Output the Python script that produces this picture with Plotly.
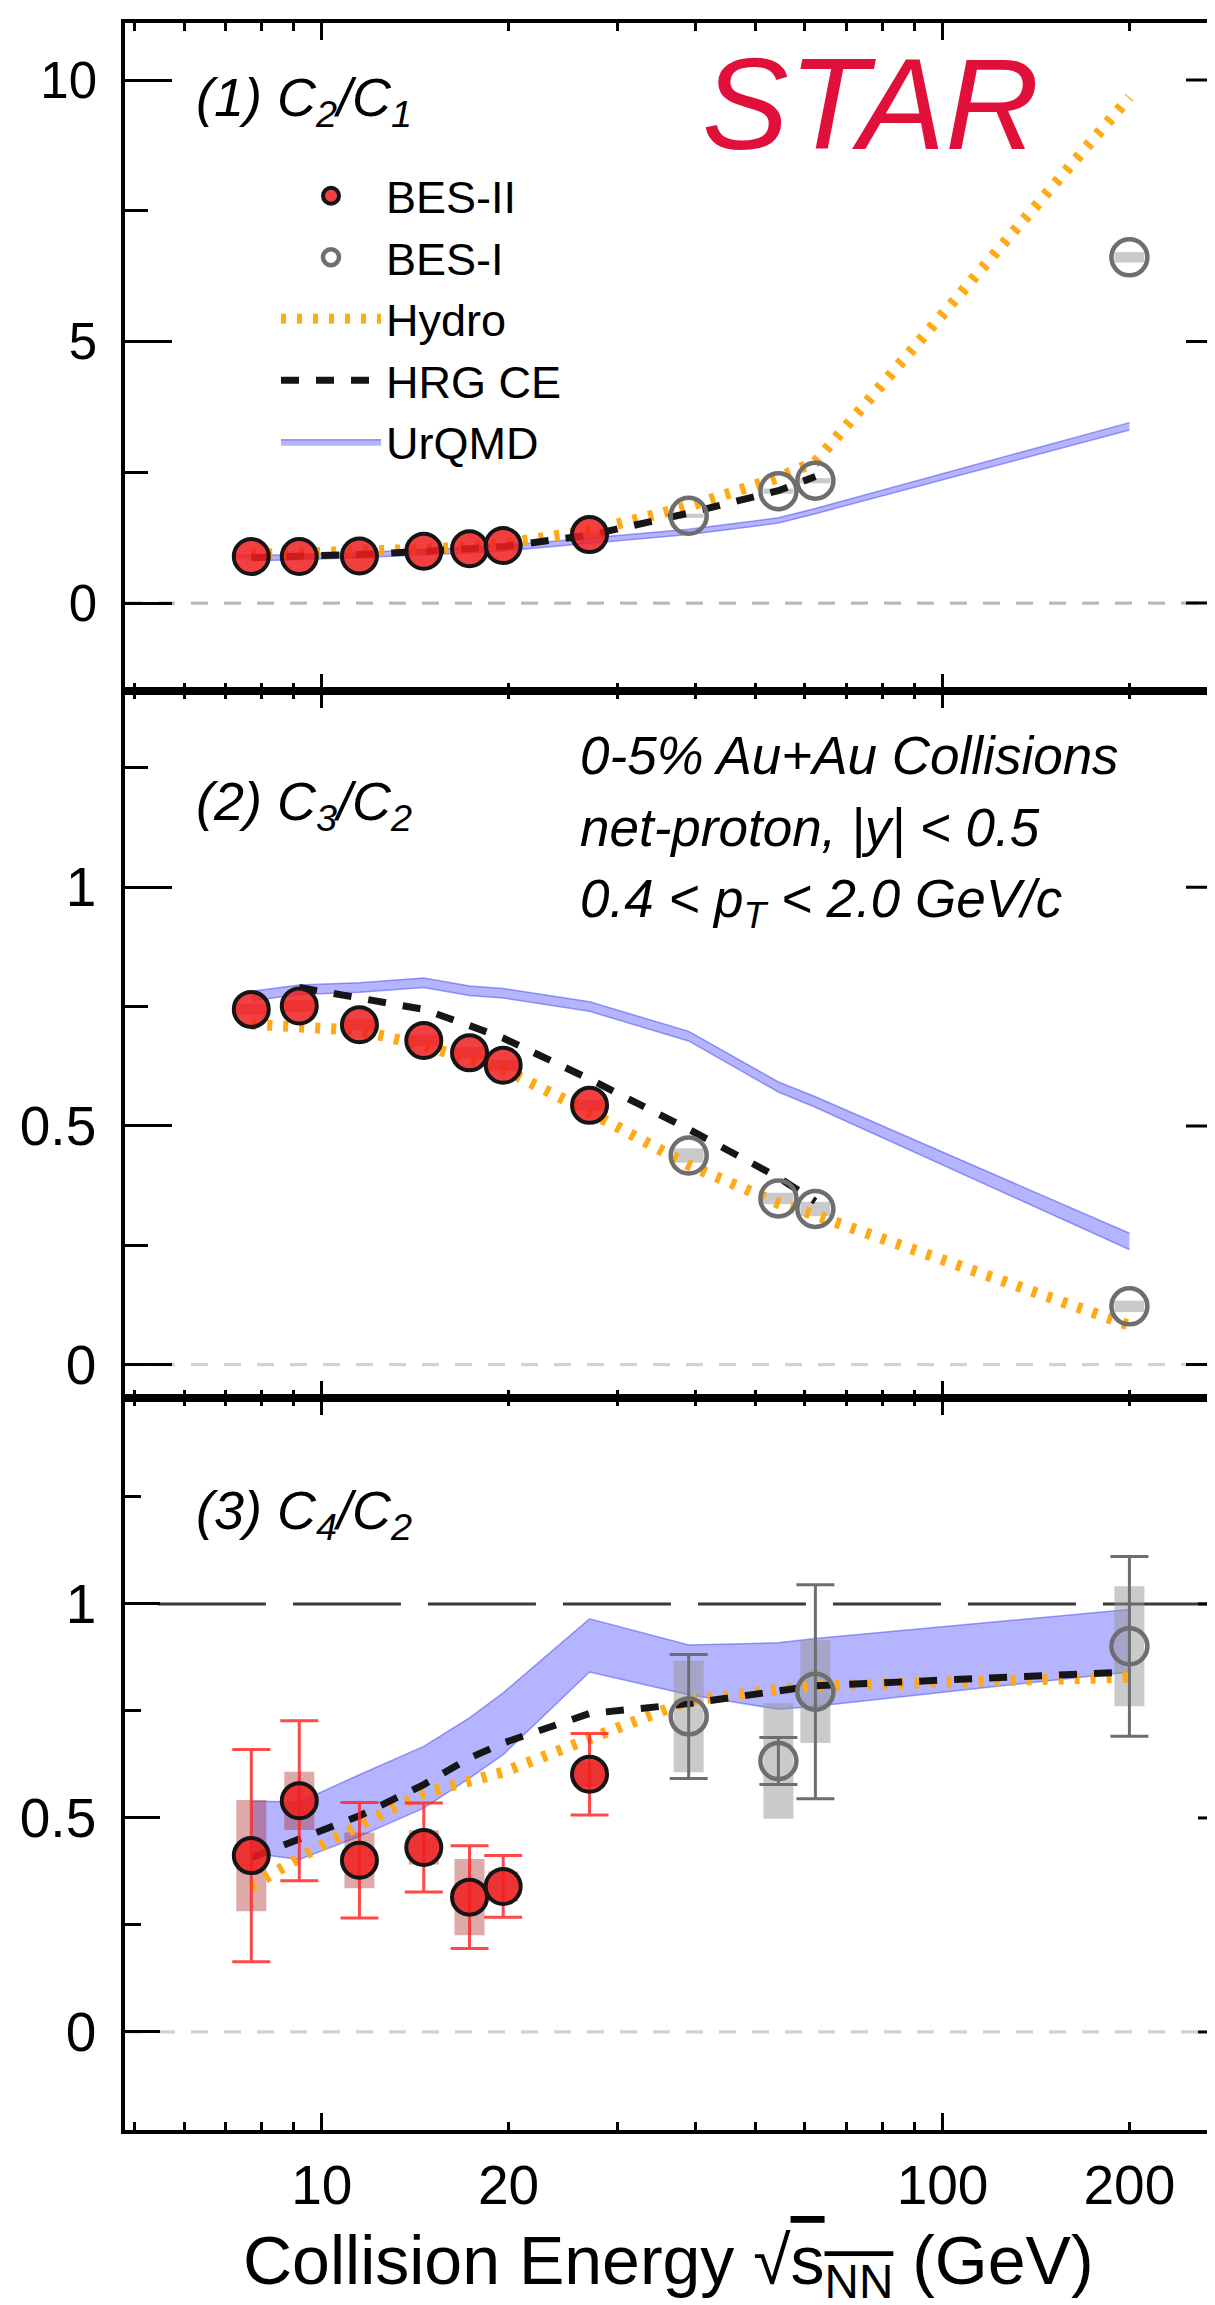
import math
import plotly.graph_objects as go

# ---------------- data ----------------
E_BES2 = [7.7, 9.2, 11.5, 14.6, 17.3, 19.6, 27]
E_BES1 = [39, 54.4, 62.4, 200]
E_MODEL = [7.7, 9.2, 11.5, 14.6, 17.3, 19.6, 27, 39, 54.4, 62.4, 200]
E_HRG1 = [7.7, 9.2, 11.5, 14.6, 17.3, 19.6, 27, 39, 54.4, 62.4]
E_HRG2 = [9.2, 11.5, 14.6, 17.3, 19.6, 27, 39, 54.4, 62.4]

# (1) C2/C1
C21_BES2 = [0.89, 0.89, 0.90, 0.99, 1.04, 1.10, 1.31]
C21_BES2_SYS = [0.05, 0.05, 0.05, 0.05, 0.05, 0.05, 0.05]
C21_BES1 = [1.67, 2.14, 2.34, 6.61]
C21_BES1_SYS = [0.04, 0.05, 0.05, 0.10]
C21_HYDRO = [0.93, 0.95, 0.97, 1.03, 1.08, 1.14, 1.38, 1.85, 2.40, 2.70, 9.67]
C21_HRG = [0.87, 0.89, 0.93, 0.99, 1.03, 1.08, 1.30, 1.72, 2.15, 2.42]
C21_URQMD_LO = [0.81, 0.83, 0.87, 0.92, 0.96, 1.00, 1.14, 1.31, 1.53, 1.71, 3.31]
C21_URQMD_HI = [0.91, 0.93, 0.97, 1.02, 1.06, 1.10, 1.24, 1.41, 1.63, 1.81, 3.45]

# (2) C3/C2
C32_BES2 = [0.744, 0.751, 0.712, 0.679, 0.653, 0.627, 0.543]
C32_BES2_SYS = [0.012, 0.012, 0.012, 0.012, 0.012, 0.012, 0.012]
C32_BES1 = [0.438, 0.348, 0.326, 0.122]
C32_BES1_SYS = [0.015, 0.012, 0.015, 0.012]
C32_HYDRO = [0.713, 0.706, 0.700, 0.668, 0.642, 0.619, 0.529, 0.418, 0.338, 0.313, 0.082]
C32_HRG = [0.790, 0.767, 0.744, 0.710, 0.684, 0.598, 0.493, 0.392, 0.342]
C32_URQMD_LO = [0.762, 0.775, 0.780, 0.790, 0.773, 0.768, 0.740, 0.678, 0.571, 0.539, 0.241]
C32_URQMD_HI = [0.782, 0.795, 0.800, 0.810, 0.793, 0.788, 0.760, 0.698, 0.592, 0.561, 0.275]

# (3) C4/C2
C42_BES2 = [0.412, 0.540, 0.401, 0.431, 0.315, 0.340, 0.602]
C42_BES2_STAT = [0.248, 0.187, 0.135, 0.104, 0.120, 0.072, 0.095]
C42_BES2_SYS = [0.130, 0.068, 0.065, 0.040, 0.089, 0.035, 0.030]
C42_BES1 = [0.737, 0.633, 0.795, 0.901]
C42_BES1_STAT = [0.145, 0.055, 0.250, 0.210]
C42_BES1_SYS = [0.130, 0.135, 0.120, 0.140]
C42_HYDRO = [0.340, 0.407, 0.483, 0.558, 0.586, 0.607, 0.685, 0.774, 0.800, 0.809, 0.829]
C42_HRG = [0.407, 0.449, 0.505, 0.578, 0.640, 0.675, 0.744, 0.767, 0.795, 0.809, 0.841]
C42_URQMD_LO = [0.418, 0.403, 0.457, 0.523, 0.593, 0.648, 0.841, 0.788, 0.754, 0.761, 0.841]
C42_URQMD_HI = [0.539, 0.537, 0.601, 0.667, 0.734, 0.792, 0.965, 0.904, 0.909, 0.919, 0.987]

X_TICKS = [10, 20, 100, 200]
X_TICK_TEXT = ["10", "20", "100", "200"]
X_MINOR = [5, 6, 7, 8, 9, 20, 30, 40, 50, 60, 70, 80, 90, 200]

Y1_TICKS, Y1_TEXT, Y1_MINOR = [0, 5, 10], ["0", "5", "10"], [2.5, 7.5]
Y23_TICKS, Y23_TEXT, Y23_MINOR = [0, 0.5, 1], ["0", "0.5", "1"], [0.25, 0.75, 1.25]

# ---------------- geometry ----------------
W, H = 1215, 2305
L, R, T, B = 117, 0, 15, 183
PW, PH = W - L - R, H - T - B
P1 = (15, 683)
P2 = (683, 1390)
P3 = (1390, 2122)


def xp(px):
    return (px - L) / PW


def yp(py):
    return (H - B - py) / PH


def dom(p):
    return [yp(p[1]), yp(p[0])]


XR = [math.log10(4.82), math.log10(283)]
Y1R = [-1.68, 11.09]
Y2R = [-0.070, 1.411]
Y3R = [-0.229, 1.481]

FONT = "Liberation Sans, Arial, Helvetica, sans-serif"
RED_FILL = "rgba(240,30,30,0.85)"
RED_ERR = "rgba(255,40,40,0.85)"
RED_SYS = "rgba(170,40,40,0.40)"
GRAY = "#6e6e6e"
GRAY_SYS = "rgba(150,150,150,0.5)"
ORANGE = "#ffa915"
BLACK = "#161616"
BAND_FILL = "rgba(105,105,255,0.5)"
BAND_LINE = "rgba(80,80,240,0.55)"
INVIS = dict(size=1, color="rgba(0,0,0,0)")

fig = go.Figure()


def add_panel(k, bes2, bes2_sys, bes1, bes1_sys, hydro, e_hrg, hrg, u_lo, u_hi,
              bes2_stat=None, bes1_stat=None, legend=False):
    xa = "x" if k == 1 else f"x{k}"
    ya = "y" if k == 1 else f"y{k}"
    # UrQMD band
    fig.add_trace(go.Scatter(x=E_MODEL, y=u_lo, mode="lines", xaxis=xa, yaxis=ya,
                             line=dict(color=BAND_LINE, width=1.5), showlegend=False,
                             hoverinfo="skip"))
    fig.add_trace(go.Scatter(x=E_MODEL, y=u_hi, mode="lines", xaxis=xa, yaxis=ya,
                             fill="tonexty", fillcolor=BAND_FILL, name="UrQMD",
                             line=dict(color=BAND_LINE, width=1.5), showlegend=legend,
                             legendrank=5))
    # systematic boxes
    fig.add_trace(go.Scatter(x=E_BES2, y=bes2, mode="markers", xaxis=xa, yaxis=ya,
                             marker=INVIS, showlegend=False,
                             error_y=dict(type="data", array=bes2_sys, thickness=30, width=0,
                                          color=RED_SYS), hoverinfo="skip"))
    fig.add_trace(go.Scatter(x=E_BES1, y=bes1, mode="markers", xaxis=xa, yaxis=ya,
                             marker=INVIS, showlegend=False,
                             error_y=dict(type="data", array=bes1_sys, thickness=30, width=0,
                                          color=GRAY_SYS), hoverinfo="skip"))
    # models
    fig.add_trace(go.Scatter(x=E_MODEL, y=hydro, mode="lines", xaxis=xa, yaxis=ya,
                             name="Hydro", line=dict(color=ORANGE, width=11, dash="5px,11px"),
                             showlegend=legend, legendrank=3))
    fig.add_trace(go.Scatter(x=e_hrg, y=hrg, mode="lines", xaxis=xa, yaxis=ya,
                             name="HRG CE", line=dict(color=BLACK, width=7, dash="18px,17px"),
                             showlegend=legend, legendrank=4))
    # data
    ey2 = None
    if bes2_stat is not None:
        ey2 = dict(type="data", array=bes2_stat, thickness=3, width=19, color=RED_ERR)
    fig.add_trace(go.Scatter(x=E_BES2, y=bes2, mode="markers", xaxis=xa, yaxis=ya,
                             name="BES-II", error_y=ey2,
                             marker=dict(size=35, color=RED_FILL, symbol="circle",
                                         line=dict(color="#151515", width=4)),
                             showlegend=legend, legendrank=1))
    ey1 = None
    if bes1_stat is not None:
        ey1 = dict(type="data", array=bes1_stat, thickness=3, width=19, color=GRAY)
    fig.add_trace(go.Scatter(x=E_BES1, y=bes1, mode="markers", xaxis=xa, yaxis=ya,
                             name="BES-I", error_y=ey1,
                             marker=dict(size=36, color="rgba(255,255,255,0)", symbol="circle",
                                         line=dict(color=GRAY, width=4.5)),
                             showlegend=legend, legendrank=2))


add_panel(1, C21_BES2, C21_BES2_SYS, C21_BES1, C21_BES1_SYS, C21_HYDRO, E_HRG1, C21_HRG,
          C21_URQMD_LO, C21_URQMD_HI, legend=True)
add_panel(2, C32_BES2, C32_BES2_SYS, C32_BES1, C32_BES1_SYS, C32_HYDRO, E_HRG2, C32_HRG,
          C32_URQMD_LO, C32_URQMD_HI)
add_panel(3, C42_BES2, C42_BES2_SYS, C42_BES1, C42_BES1_SYS, C42_HYDRO, E_MODEL, C42_HRG,
          C42_URQMD_LO, C42_URQMD_HI, bes2_stat=C42_BES2_STAT, bes1_stat=C42_BES1_STAT)

# invisible carrier so that the bottom label axis is drawn
fig.add_trace(go.Scatter(x=E_BES1, y=C42_BES1, xaxis="x4", yaxis="y3", mode="markers",
                         marker=INVIS, showlegend=False, hoverinfo="skip"))


# ---------------- axes ----------------
def xaxis_cfg(anchor):
    return dict(type="log", range=XR, domain=[0, 1], anchor=anchor,
                showline=True, linecolor="black", linewidth=3.5, mirror="ticks",
                ticks="inside", tickvals=[10, 100], ticklen=17, tickwidth=3, tickcolor="black",
                showticklabels=False, showgrid=False, zeroline=False,
                minor=dict(tickvals=X_MINOR, ticks="inside", ticklen=8, tickwidth=3,
                           tickcolor="black", showgrid=False))


def yaxis_cfg(anchor, d, rng, tv, tt, mv, tl, mtl, fs):
    return dict(domain=d, range=rng, anchor=anchor, showline=True, linecolor="black",
                linewidth=3.5, mirror=False, ticks="inside", tickvals=tv, ticktext=tt,
                ticklen=tl, tickwidth=3, tickcolor="black", showgrid=False, zeroline=False,
                tickfont=dict(family=FONT, size=fs, color="black"), ticklabelstandoff=14,
                minor=dict(tickvals=mv, ticks="inside", ticklen=mtl, tickwidth=3,
                           tickcolor="black", showgrid=False))


layout = dict(
    width=W, height=H, margin=dict(l=L, r=R, t=T, b=B, pad=0),
    paper_bgcolor="white", plot_bgcolor="white",
    font=dict(family=FONT, color="black"),
    showlegend=True,
    legend=dict(x=xp(268), y=yp(152), xanchor="left", yanchor="top",
                font=dict(family=FONT, size=45, color="black"),
                bgcolor="rgba(0,0,0,0)", itemwidth=100, traceorder="normal",
                tracegroupgap=0),
    xaxis=xaxis_cfg("y"),
    xaxis2=xaxis_cfg("y2"),
    xaxis3=xaxis_cfg("y3"),
    xaxis4=dict(type="log", range=XR, overlaying="x3", anchor="y3", side="bottom",
                showline=False, ticks="", tickvals=X_TICKS, ticktext=X_TICK_TEXT,
                showgrid=False, zeroline=False, ticklabelstandoff=18,
                tickfont=dict(family=FONT, size=55, color="black")),
    yaxis=yaxis_cfg("x", dom(P1), Y1R, Y1_TICKS, Y1_TEXT, Y1_MINOR, 47, 23, 51),
    yaxis2=yaxis_cfg("x2", dom(P2), Y2R, Y23_TICKS, Y23_TEXT, Y23_MINOR, 47, 23, 55),
    yaxis3=yaxis_cfg("x3", dom(P3), Y3R, Y23_TICKS, Y23_TEXT, Y23_MINOR, 35, 16, 55),
)
fig.update_layout(**layout)

# reference lines and right-hand (mirrored) y ticks
shapes = []
for yref, xref, col in [("y", "x", "#b9b9b9"), ("y2", "x2", "#d2d2d2"), ("y3", "x3", "#d2d2d2")]:
    shapes.append(dict(type="line", xref=f"{xref} domain", x0=0, x1=1, yref=yref, y0=0, y1=0,
                       line=dict(color=col, width=3.3, dash="17px,16px"), layer="below"))
shapes.append(dict(type="line", xref="x3 domain", x0=0.03, x1=1, yref="y3", y0=1, y1=1,
                   line=dict(color="#3a3a3a", width=3, dash="108px,27px"), layer="below"))

for yref, xref, majors, minors, lmaj, lmin in [
        ("y", "x", Y1_TICKS, Y1_MINOR, 37, 13),
        ("y2", "x2", Y23_TICKS, Y23_MINOR, 37, 13),
        ("y3", "x3", Y23_TICKS, Y23_MINOR, 25, 6)]:
    for vals, ln in [(majors, lmaj), (minors, lmin)]:
        for v in vals:
            shapes.append(dict(type="line", xref=f"{xref} domain", x0=1 - ln / PW, x1=1,
                               yref=yref, y0=v, y1=v, line=dict(color="black", width=3),
                               layer="above"))
fig.update_layout(shapes=shapes)

# annotations
ann = []


def text(px, py, s, size, xanchor="left", color="black", italic=True):
    ann.append(dict(x=xp(px), y=yp(py), xref="paper", yref="paper",
                    text=(f"<i>{s}</i>" if italic else s),
                    showarrow=False, xanchor=xanchor, yanchor="middle",
                    font=dict(family=FONT, size=size, color=color)))


text(186, 93, "(1) C<sub>2</sub>/C<sub>1</sub>", 54)
text(186, 797, "(2) C<sub>3</sub>/C<sub>2</sub>", 54)
text(186, 1506, "(3) C<sub>4</sub>/C<sub>2</sub>", 54)
text(862, 96, "STAR", 130, xanchor="center", color="#e0103a")
text(570, 747, "0-5% Au+Au Collisions", 53)
text(570, 820, "net-proton, |y| &lt; 0.5", 53)
text(570, 895, "0.4 &lt; p<sub>T</sub> &lt; 2.0 GeV/c", 53)
text(660, 2257,
     "Collision Energy √<span style='text-decoration:overline'>s<sub>NN</sub></span> (GeV)",
     68, xanchor="center", italic=False)
fig.update_layout(annotations=ann)

fig.write_html("out.html")
